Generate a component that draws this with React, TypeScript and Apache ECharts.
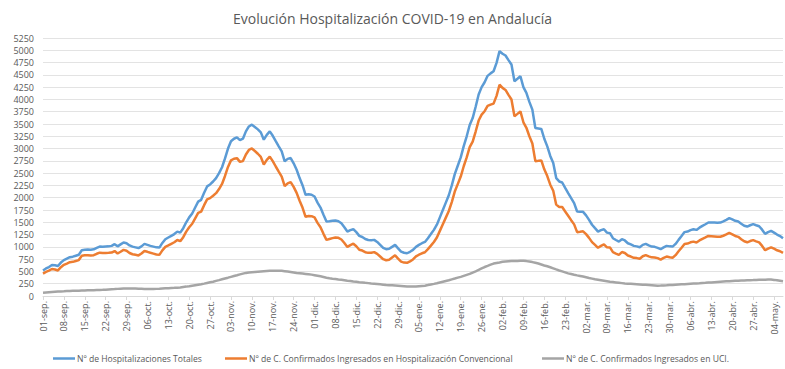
import React, { useEffect, useRef } from "react";
import * as echarts from "echarts";

const TITLE = "Evolución Hospitalización COVID-19 en Andalucía";
const MONTHS = ["sep", "oct", "nov", "dic", "ene", "feb", "mar", "abr", "may"];
const MONTH_DAYS_SHOWN = [30, 31, 30, 31, 31, 28, 31, 30, 7];
const SERIES_NAMES = [
  "Nº de Hospitalizaciones Totales",
  "Nº de C. Confirmados Ingresados en Hospitalización Convencional",
  "Nº de C. Confirmados Ingresados en UCI.",
];
const COLORS = ["#5B9BD5", "#ED7D31", "#A5A5A5"];

const totales = [
  520, 560, 590, 630, 625, 610, 680, 730, 760, 790,
  800, 820, 840, 930, 940, 945, 940, 950, 980, 1005,
  1000, 1005, 1010, 1020, 1055, 1010, 1050, 1090, 1075, 1030,
  1005, 990, 975, 1010, 1060, 1040, 1020, 1005, 990, 985,
  1080, 1155, 1190, 1225, 1260, 1310, 1290, 1380, 1500, 1600,
  1680, 1800, 1920, 1957, 2100, 2230, 2270, 2330, 2400, 2500,
  2620, 2800, 3000, 3150, 3200, 3228, 3170, 3200, 3350, 3450,
  3487, 3440, 3390, 3330, 3181, 3280, 3350, 3260, 3150, 3045,
  2943, 2739, 2790, 2807, 2700, 2569, 2400, 2250, 2059, 2070,
  2060, 2025, 1900, 1800, 1652, 1515, 1520, 1530, 1535, 1520,
  1480, 1400, 1311, 1340, 1359, 1300, 1223, 1200, 1160, 1140,
  1135, 1142, 1100, 1040, 980, 952, 960, 1000, 1040, 970,
  904, 880, 870, 900, 938, 1000, 1040, 1074, 1100, 1176,
  1260, 1346, 1450, 1600, 1750, 1900, 2050, 2250, 2480, 2650,
  2820, 3050, 3250, 3480, 3620, 3850, 4100, 4250, 4350, 4480,
  4530, 4574, 4745, 4982, 4930, 4894, 4800, 4710, 4370, 4420,
  4472, 4250, 4133, 3950, 3793, 3419, 3410, 3400, 3200, 3045,
  2850, 2705, 2400, 2331, 2310, 2200, 2093, 1990, 1890, 1719,
  1715, 1712, 1640, 1550, 1450, 1380, 1311, 1340, 1359, 1290,
  1278, 1176, 1140, 1107, 1156, 1130, 1074, 1050, 1020, 1010,
  992, 1040, 1060, 1030, 1005, 1000, 980, 952, 990, 1020,
  1010, 1005, 1060, 1142, 1220, 1300, 1311, 1340, 1359, 1345,
  1390, 1427, 1460, 1495, 1495, 1495, 1490, 1495, 1520, 1550,
  1584, 1560, 1530, 1515, 1470, 1430, 1413, 1440, 1462, 1440,
  1420, 1350, 1264, 1300, 1325, 1290, 1250, 1220, 1176,
];

const convencional = [
  455, 490, 515, 550, 540, 520, 587, 634, 660, 688,
  695, 713, 731, 819, 827, 830, 823, 831, 859, 882,
  875, 877, 878, 884, 915, 865, 900, 938, 921, 875,
  850, 838, 826, 864, 917, 899, 880, 863, 845, 837,
  928, 999, 1030, 1062, 1094, 1140, 1115, 1197, 1309, 1400,
  1470, 1580, 1690, 1717, 1848, 1965, 1992, 2040, 2093, 2177,
  2280, 2443, 2627, 2760, 2793, 2805, 2730, 2745, 2880, 2972,
  3002, 2950, 2895, 2830, 2676, 2770, 2837, 2745, 2635, 2532,
  2431, 2234, 2293, 2319, 2221, 2099, 1937, 1794, 1610, 1628,
  1625, 1601, 1488, 1400, 1265, 1142, 1160, 1178, 1190, 1183,
  1150, 1079, 999, 1036, 1064, 1012, 942, 925, 892, 878,
  880, 893, 857, 803, 749, 727, 739, 783, 827, 761,
  699, 680, 675, 705, 743, 805, 840, 869, 890, 954,
  1025, 1099, 1190, 1325, 1460, 1595, 1730, 1912, 2125, 2277,
  2430, 2640, 2820, 3030, 3143, 3347, 3570, 3690, 3760, 3867,
  3893, 3914, 4073, 4299, 4235, 4193, 4093, 3998, 3657, 3706,
  3757, 3535, 3423, 3250, 3103, 2744, 2750, 2759, 2578, 2441,
  2265, 2142, 1859, 1811, 1810, 1720, 1633, 1543, 1457, 1299,
  1307, 1317, 1259, 1183, 1096, 1040, 981, 1020, 1049, 990,
  988, 893, 864, 838, 894, 875, 823, 803, 777, 771,
  757, 809, 833, 807, 786, 785, 770, 740, 775, 802,
  788, 780, 831, 909, 983, 1060, 1067, 1092, 1107, 1090,
  1131, 1163, 1192, 1222, 1218, 1213, 1204, 1205, 1226, 1252,
  1283, 1255, 1222, 1204, 1156, 1113, 1093, 1118, 1138, 1113,
  1091, 1019, 931, 965, 991, 962, 930, 910, 876,
];

const uci = [
  65, 70, 75, 80, 85, 90, 93, 96, 100, 102,
  105, 107, 109, 111, 113, 115, 117, 119, 121, 123,
  125, 128, 132, 136, 140, 145, 150, 152, 154, 155,
  155, 152, 149, 146, 143, 141, 140, 142, 145, 148,
  152, 156, 160, 163, 166, 170, 175, 183, 191, 200,
  210, 220, 230, 240, 252, 265, 278, 290, 307, 323,
  340, 357, 373, 390, 407, 423, 440, 455, 470, 478,
  485, 490, 495, 500, 505, 510, 513, 515, 515, 513,
  512, 505, 497, 488, 479, 470, 463, 456, 449, 442,
  435, 424, 412, 400, 387, 373, 360, 352, 345, 337,
  330, 321, 312, 304, 295, 288, 281, 275, 268, 262,
  255, 249, 243, 237, 231, 225, 221, 217, 213, 209,
  205, 200, 195, 195, 195, 195, 200, 205, 210, 222,
  235, 247, 260, 275, 290, 305, 320, 338, 355, 373,
  390, 410, 430, 450, 477, 503, 530, 560, 590, 613,
  637, 660, 672, 683, 695, 701, 707, 712, 713, 714,
  715, 715, 710, 700, 690, 675, 660, 641, 622, 604,
  585, 563, 541, 520, 500, 480, 460, 447, 433, 420,
  408, 395, 381, 367, 354, 340, 330, 320, 310, 300,
  290, 283, 276, 269, 262, 255, 251, 247, 243, 239,
  235, 231, 227, 223, 219, 215, 210, 212, 215, 218,
  222, 225, 229, 233, 237, 240, 244, 248, 252, 255,
  259, 264, 268, 273, 277, 282, 286, 290, 294, 298,
  301, 305, 308, 311, 314, 317, 320, 322, 324, 327,
  329, 331, 333, 335, 334, 328, 320, 310, 300,
];

const Y_MAX = 5250;
const Y_STEP = 250;

const categories: string[] = [];
MONTHS.forEach((m, i) => {
  for (let d = 1; d <= MONTH_DAYS_SHOWN[i]; d++) {
    categories.push(`${String(d).padStart(2, "0")}-${m}.`);
  }
});

const FONT = "'Open Sans', sans-serif";
const LEGEND_LEFTS = [53, 225, 542];

export default function App() {
  const ref = useRef<HTMLDivElement>(null);
  useEffect(() => {
    document.body.style.margin = "0";
    if (!ref.current) return;
    const chart = echarts.init(ref.current, undefined, { renderer: "svg" });
    const seriesData = [totales, convencional, uci];
    chart.setOption({
      animation: false,
      backgroundColor: "#ffffff",
      textStyle: { fontFamily: FONT },
      title: {
        text: TITLE,
        left: "center",
        top: 6,
        textStyle: { fontFamily: FONT, fontSize: 14, fontWeight: "normal", color: "#595959" },
      },
      legend: SERIES_NAMES.map((name, i) => ({
        data: [name],
        left: LEGEND_LEFTS[i],
        top: 354,
        padding: 0,
        icon: "rect",
        itemWidth: 22,
        itemHeight: 2.5,
        textStyle: { fontFamily: FONT, fontSize: 8.6, color: "#595959", padding: [0, 0, 0, -3] },
      })),
      grid: { left: 43, right: 2, top: 38, bottom: 73, containLabel: false },
      xAxis: {
        type: "category",
        data: categories,
        boundaryGap: false,
        axisLine: { lineStyle: { color: "#d9d9d9" } },
        axisTick: { interval: 6, length: 4, lineStyle: { color: "#d9d9d9" } },
        axisLabel: {
          interval: 6,
          rotate: 90,
          fontSize: 9,
          color: "#595959",
          fontFamily: FONT,
          margin: 5,
        },
        splitLine: { show: false },
      },
      yAxis: {
        type: "value",
        min: 0,
        max: Y_MAX,
        interval: Y_STEP,
        axisLine: { show: false },
        axisTick: { show: false },
        axisLabel: {
          fontSize: 9,
          color: "#595959",
          fontFamily: FONT,
          margin: 9,
          formatter: (v: number) => String(v),
        },
        splitLine: { lineStyle: { color: "#e3e3e3", width: 1 } },
      },
      series: SERIES_NAMES.map((name, i) => ({
        name,
        type: "line",
        data: seriesData[i],
        showSymbol: false,
        symbol: "none",
        lineStyle: { width: 2.5, color: COLORS[i] },
        itemStyle: { color: COLORS[i] },
        z: 3 - i,
      })),
    });
    return () => chart.dispose();
  }, []);
  return (
    <div
      ref={ref}
      style={{ position: "absolute", left: 0, top: 0, width: 785, height: 369 }}
    />
  );
}
